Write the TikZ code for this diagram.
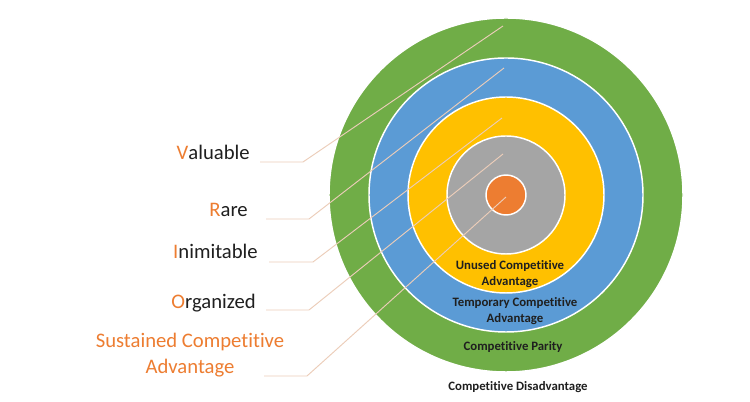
\documentclass[tikz,border=0pt]{standalone}
\usepackage{fontspec}
\setmainfont{Carlito}[Ligatures=NoCommon]
\usepackage{tikz}
\usetikzlibrary{calc}
\definecolor{parityGreen}{RGB}{112,173,71}
\definecolor{tempBlue}{RGB}{91,155,213}
\definecolor{unusedGold}{RGB}{255,192,0}
\definecolor{coreGrey}{RGB}{165,165,165}
\definecolor{vrioOrange}{RGB}{237,125,49}
\definecolor{leaderTan}{RGB}{236,205,185}
\colorlet{ink}{black!88}
\tikzset{
  ring/.style={draw=white, line width=1.1pt},
  leader/.style={draw=leaderTan, line width=0.7pt},
  vrio/.style={font=\fontsize{15.5}{19}\selectfont, text=ink, inner sep=0pt},
  ringlabel/.style={font=\fontsize{9.6}{12}\selectfont\bfseries, text=ink, align=center, inner sep=0pt}
}
\newcommand{\Lead}[1]{\textcolor{vrioOrange}{#1}}

\begin{document}
\begin{tikzpicture}[x=0.75pt,y=0.75pt]
  \useasboundingbox (0,0) rectangle (750,402);
  \fill[white] (0,0) rectangle (750,402);

  \coordinate (ctr) at (506,207);
  \draw[ring, fill=parityGreen] (ctr) circle (177);
  \draw[ring, fill=tempBlue] (ctr) circle (137);
  \draw[ring, fill=unusedGold] (ctr) circle (98);
  \draw[ring, fill=coreGrey] (ctr) circle (59);
  \draw[ring, fill=vrioOrange] (ctr) circle (20);

  \node[vrio, anchor=base east] (valuable) at (250,242) {\Lead{V}aluable};
  \node[vrio, anchor=base east] (rare) at (248,185) {\Lead{R}are};
  \node[vrio, anchor=base east] (inimitable) at (258,143) {\Lead{I}nimitable};
  \node[vrio, anchor=base east] (organized) at (256,93) {\Lead{O}rganized};
  \node[vrio, text=vrioOrange, align=center] (sustained) at (190,47) {Sustained Competitive\\Advantage};

  \coordinate (vA) at (260,240);  \coordinate (vB) at (303,240);  \coordinate (vC) at (503,376);
  \coordinate (rA) at (266,183);  \coordinate (rB) at (309,183);  \coordinate (rC) at (504,334);
  \coordinate (iA) at (269,140);  \coordinate (iB) at (313,140);  \coordinate (iC) at (502,284);
  \coordinate (oA) at (266,92);   \coordinate (oB) at (309,92);   \coordinate (oC) at (503,248);
  \coordinate (sA) at (264,26);   \coordinate (sB) at (307,26);   \coordinate (sC) at (506,205);

  \draw[leader] (vA) -- (vB) -- (vC);
  \draw[leader] (rA) -- (rB) -- (rC);
  \draw[leader] (iA) -- (iB) -- (iC);
  \draw[leader] (oA) -- (oB) -- (oC);
  \draw[leader] (sA) -- (sB) -- (sC);

  \node[ringlabel] (unused) at (510,128) {Unused Competitive\\Advantage};
  \node[ringlabel] (temporary) at (515,91) {Temporary Competitive\\Advantage};
  \node[ringlabel] (parity) at (513,55) {Competitive Parity};
  \node[ringlabel] (disadvantage) at (518,15) {Competitive Disadvantage};
\end{tikzpicture}
\end{document}
